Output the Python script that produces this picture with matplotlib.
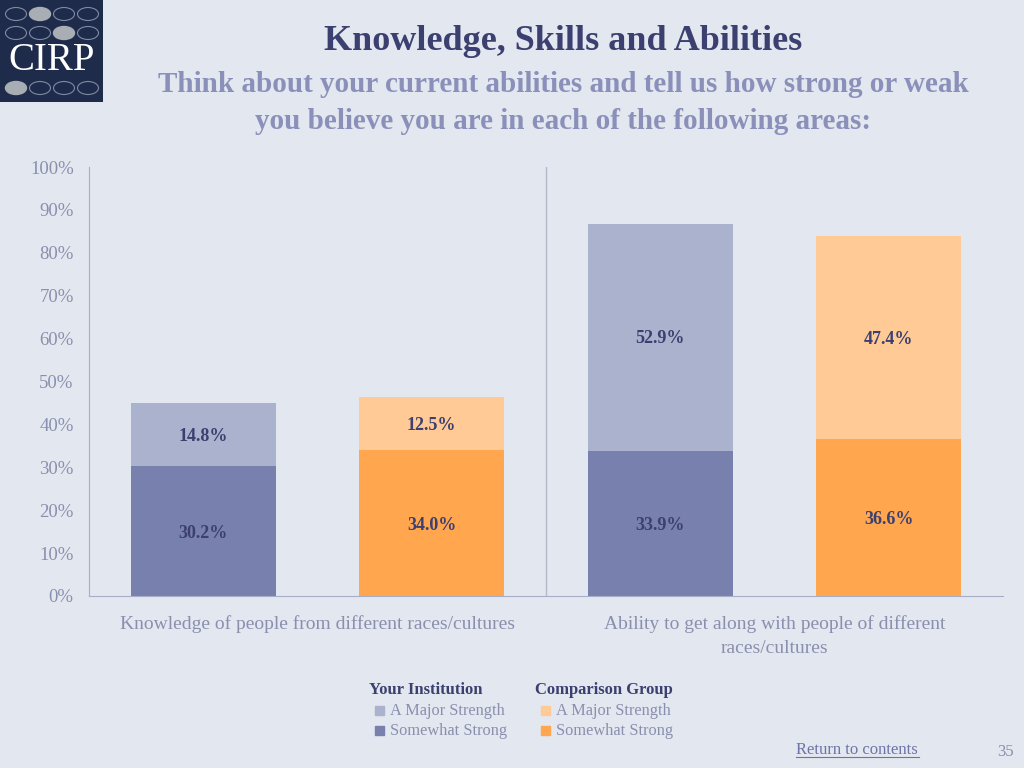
import matplotlib
matplotlib.use("Agg")
from matplotlib import pyplot as plt
from matplotlib.patches import Ellipse, Rectangle

categories = ["Knowledge of people from different races/cultures",
              "Ability to get along with people of different\nraces/cultures"]
inst_somewhat = [30.2, 33.9]
inst_major = [14.8, 52.9]
comp_somewhat = [34.0, 36.6]
comp_major = [12.5, 47.4]
yticks = [0, 10, 20, 30, 40, 50, 60, 70, 80, 90, 100]

BG = "#E3E7EF"
NAVY = "#3B4070"
LAV = "#8A90BA"
GREY = "#8A8FAE"
C_INST_SW = "#7880AE"
C_INST_MJ = "#AAB2CE"
C_COMP_SW = "#FFA64F"
C_COMP_MJ = "#FFCA95"
SERIF = ["Liberation Serif", "DejaVu Serif"]

plt.rcParams["font.family"] = SERIF

W, H = 1024, 768
fig = plt.figure(figsize=(W / 100, H / 100), dpi=100, facecolor=BG)


def px(x, y):
    return x / W, 1 - y / H


ax = fig.add_axes([89 / W, 1 - 596 / H, (1003 - 89) / W, (596 - 167) / H])
ax.set_facecolor(BG)

width = 0.635
x_inst = [0.5 + 2 * i for i in range(len(categories))]
x_comp = [1.5 + 2 * i for i in range(len(categories))]

ax.bar(x_inst, inst_somewhat, width, color=C_INST_SW)
ax.bar(x_inst, inst_major, width, bottom=inst_somewhat, color=C_INST_MJ)
ax.bar(x_comp, comp_somewhat, width, color=C_COMP_SW)
ax.bar(x_comp, comp_major, width, bottom=comp_somewhat, color=C_COMP_MJ)

lab = dict(ha="center", va="center", fontsize=13, fontweight="bold", color=NAVY)
for xs, sw, mj in [(x_inst, inst_somewhat, inst_major), (x_comp, comp_somewhat, comp_major)]:
    for x, a, b in zip(xs, sw, mj):
        ax.text(x, a / 2 - 0.5, f"{a:.1f}%", **lab)
        ax.text(x, a + b / 2 - 0.4, f"{b:.1f}%", **lab)

ax.set_xlim(0, 4)
ax.set_ylim(0, 100)
ax.set_yticks(yticks)
ax.set_yticklabels([f"{t}%" for t in yticks], fontsize=13.5, color=GREY)
ax.tick_params(axis="y", length=0, pad=11)
ax.set_xticks([1, 3])
ax.set_xticklabels(categories, fontsize=14, color=GREY, linespacing=1.55)
ax.tick_params(axis="x", length=0, pad=14)
ax.axvline(2, color="#B5B9CC", lw=1)
for s in ["top", "right"]:
    ax.spines[s].set_visible(False)
for s in ["left", "bottom"]:
    ax.spines[s].set_color("#A9ADC8")

# titles
fig.text(*px(563, 42), "Knowledge, Skills and Abilities", ha="center", va="center",
         fontsize=26, fontweight="bold", color=NAVY)
fig.text(*px(563, 103), "Think about your current abilities and tell us how strong or weak\n"
         "you believe you are in each of the following areas:", ha="center", va="center",
         fontsize=21, fontweight="bold", color=LAV, linespacing=1.5)

# legend
leg = [("Your Institution", 369, [C_INST_MJ, C_INST_SW]),
       ("Comparison Group", 535, [C_COMP_MJ, C_COMP_SW])]
for title, x0, cols in leg:
    fig.text(*px(x0, 690), title, ha="left", va="center", fontsize=12,
             fontweight="bold", color=NAVY)
    for j, (name, c) in enumerate(zip(["A Major Strength", "Somewhat Strong"], cols)):
        y = 711 + 20 * j
        fig.patches.append(Rectangle(px(x0 + 6, y + 4), 9 / W, 9 / H, color=c,
                                     transform=fig.transFigure, figure=fig))
        fig.text(*px(x0 + 21, y), name, ha="left", va="center", fontsize=11.8, color=GREY)

fig.text(*px(796, 750), "Return to contents", ha="left", va="center", fontsize=12,
         color="#6E74A8")
fig.add_artist(plt.Line2D([796 / W, 919 / W], [1 - 757 / H] * 2, color="#6E74A8", lw=0.8))
fig.text(*px(1006, 752), "35", ha="center", va="center", fontsize=12, color=GREY)

# logo
lg = fig.add_axes([0, 1 - 102 / H, 103 / W, 102 / H])
lg.set_xlim(0, 103)
lg.set_ylim(102, 0)
lg.axis("off")
lg.add_patch(Rectangle((0, 0), 103, 102, color="#1F2B4B"))
filled = {(0, 1), (1, 2), (2, 0)}
for r, yy in enumerate([14, 33, 88]):
    for c, xx in enumerate([16, 40, 64, 88]):
        if (r, c) in filled:
            lg.add_patch(Ellipse((xx, yy), 21, 13, color="#A8AEB3"))
        else:
            lg.add_patch(Ellipse((xx, yy), 21, 13, fill=False, ec="#7F8AA3", lw=0.8))
lg.text(52, 61, "CIRP", ha="center", va="center", fontsize=28, color="white")

fig.savefig("out.png", dpi=100, facecolor=BG)
